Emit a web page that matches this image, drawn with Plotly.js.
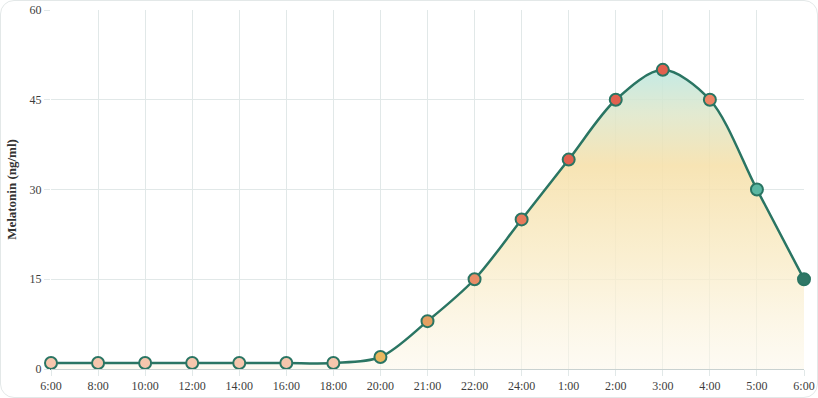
<!DOCTYPE html>
<html>
<head>
<meta charset="utf-8">
<script src="https://cdn.plot.ly/plotly-3.0.1.min.js"></script>
<style>
html,body{margin:0;padding:0;background:#ffffff;}
#wrap{position:absolute;left:0;top:0;width:816px;height:396px;border:1px solid #e3e8e8;border-radius:14px;overflow:hidden;background:#fff;}
#chart{width:818px;height:398px;position:absolute;left:-1px;top:-1px;}
</style>
</head>
<body>
<div id="wrap"><div id="chart"></div></div>
<script>
const timeLabels = ["6:00","8:00","10:00","12:00","14:00","16:00","18:00","20:00","21:00","22:00","24:00","1:00","2:00","3:00","4:00","5:00","6:00"];
const melatonin = [1,1,1,1,1,1,1,2,8,15,25,35,45,50,45,30,15];
const yTicks = [0,15,30,45,60];

const pointColors = ["#f6c6ad","#f6c6ad","#f6c6ad","#f6c6ad","#f6c6ad","#f6c6ad","#f6c6ad",
  "#ebb75e","#e4a062","#e98d68","#e77a5c","#e2604f","#e2604f","#e2604f","#ef8465","#5bb7a2","#2f7766"];

const xIdx = timeLabels.map((_, i) => i);

const trace = {
  x: xIdx,
  y: melatonin,
  type: 'scatter',
  mode: 'lines+markers',
  cliponaxis: false,
  line: {shape: 'spline', smoothing: 0.9, color: '#2a7563', width: 2.5},
  marker: {size: 12, color: pointColors, line: {color: '#2a7563', width: 2}},
  fill: 'tozeroy',
  fillgradient: {
    type: 'vertical',
    start: 0,
    stop: 50,
    colorscale: [
      [0, 'rgba(252,247,233,0.55)'],
      [0.35, 'rgba(249,236,200,0.8)'],
      [0.68, 'rgba(246,225,172,0.9)'],
      [0.85, 'rgba(222,230,200,0.85)'],
      [1, 'rgba(190,232,226,0.9)']
    ]
  },
  hoverinfo: 'x+y',
  showlegend: false
};

const layout = {
  width: 818,
  height: 398,
  margin: {l: 51, r: 14, t: 10, b: 29},
  paper_bgcolor: 'rgba(0,0,0,0)',
  plot_bgcolor: '#ffffff',
  font: {family: '"Liberation Serif", "DejaVu Serif", serif', color: '#3d3d3d', size: 12},
  xaxis: {
    range: [0, 16],
    tickvals: xIdx,
    ticktext: timeLabels,
    showgrid: true,
    gridcolor: '#e1e8e8',
    gridwidth: 1,
    zeroline: false,
    showline: true,
    linecolor: '#c9d2d1',
    linewidth: 1,
    ticks: 'outside',
    ticklen: 6,
    tickcolor: '#e1e8e8',
    tickfont: {size: 12, color: '#3d3d3d'},
    fixedrange: true
  },
  yaxis: {
    range: [0, 60],
    tickvals: yTicks,
    showgrid: true,
    gridcolor: '#e1e8e8',
    gridwidth: 1,
    zeroline: false,
    showline: false,
    ticks: 'outside',
    ticklen: 6,
    tickcolor: '#e1e8e8',
    tickfont: {size: 12, color: '#3d3d3d'},
    title: {text: 'Melatonin (ng/ml)', font: {size: 13, color: '#333', weight: 'bold'}, standoff: 10},
    fixedrange: true
  }
};

Plotly.newPlot('chart', [trace], layout, {displayModeBar: false, staticPlot: true});
</script>
</body>
</html>
